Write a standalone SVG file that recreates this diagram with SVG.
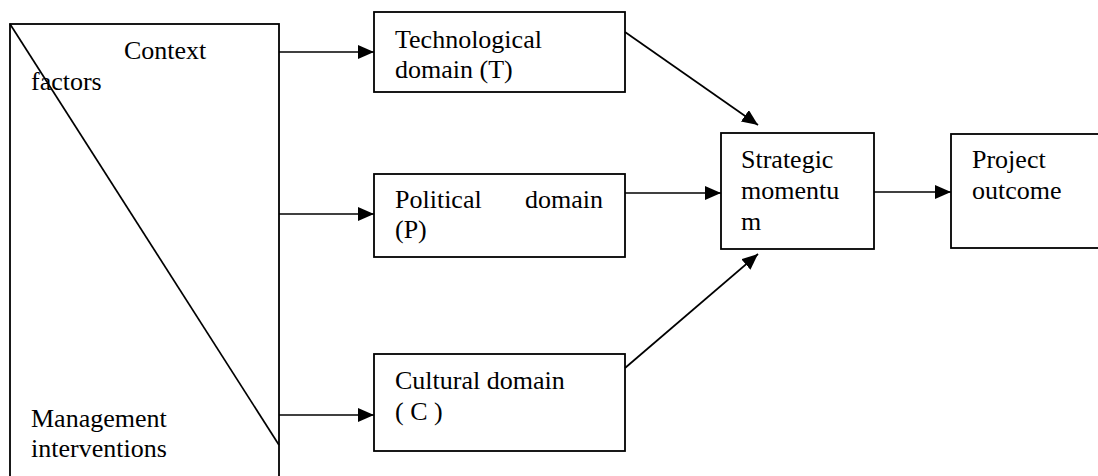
<svg xmlns="http://www.w3.org/2000/svg" width="1098" height="476" viewBox="0 0 1098 476">
<defs>
<style>
.box{fill:#fff;stroke:#000;stroke-width:1.8}
.ln{fill:none;stroke:#000;stroke-width:1.7}
text{font-family:"Liberation Serif","Times New Roman",serif;font-size:26px;fill:#000}
</style>
<marker id="ah" markerUnits="userSpaceOnUse" markerWidth="17" markerHeight="15" refX="16" refY="7" orient="auto">
<path d="M0,0 L16,7 L0,14 Z" fill="#000"/>
</marker>
</defs>
<rect width="1098" height="476" fill="#fff"/>
<g id="context">
<rect class="box" x="10" y="24" width="269" height="470"/>
<line class="ln" x1="10" y1="24" x2="279" y2="445"/>
<text x="124" y="59">Context</text>
<text x="31" y="90">factors</text>
<text x="31" y="427">Management</text>
<text x="31" y="457">interventions</text>
</g>
<g id="tech">
<rect class="box" x="374" y="12" width="251" height="80"/>
<text x="395" y="48">Technological</text>
<text x="395" y="78">domain (T)</text>
</g>
<g id="political">
<rect class="box" x="374" y="174" width="251" height="83"/>
<text x="395" y="208">Political</text>
<text x="603" y="208" text-anchor="end">domain</text>
<text x="395" y="238">(P)</text>
</g>
<g id="cultural">
<rect class="box" x="374" y="354" width="251" height="97"/>
<text x="395" y="389">Cultural domain</text>
<text x="395" y="420">( C )</text>
</g>
<g id="momentum">
<rect class="box" x="721" y="133" width="153" height="116"/>
<text x="741" y="168">Strategic</text>
<text x="741" y="199">momentu</text>
<text x="741" y="230">m</text>
</g>
<g id="outcome">
<rect class="box" x="951" y="134" width="160" height="114"/>
<text x="972" y="168">Project</text>
<text x="972" y="199">outcome</text>
</g>
<g id="connectors">
<line class="ln" x1="279" y1="52" x2="374" y2="52" marker-end="url(#ah)"/>
<line class="ln" x1="279" y1="214" x2="374" y2="214" marker-end="url(#ah)"/>
<line class="ln" x1="279" y1="415" x2="374" y2="415" marker-end="url(#ah)"/>
<line class="ln" x1="625" y1="193" x2="721" y2="193" marker-end="url(#ah)"/>
<line class="ln" x1="874" y1="192" x2="951" y2="192" marker-end="url(#ah)"/>
<line class="ln" x1="625" y1="32" x2="758" y2="125" marker-end="url(#ah)"/>
<line class="ln" x1="625" y1="368" x2="758" y2="254" marker-end="url(#ah)"/>
</g>
</svg>
